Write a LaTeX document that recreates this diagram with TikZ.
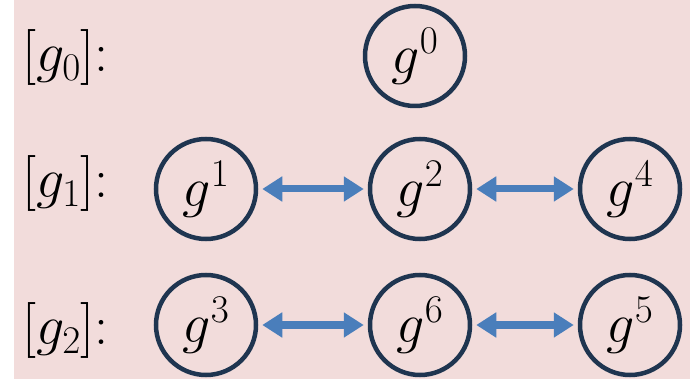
\RequirePackage{fix-cm}
\documentclass[tikz,border=0pt]{standalone}
\usepackage{amsmath}
\usepackage{tikz}
\usetikzlibrary{arrows.meta}
\definecolor{bgpink}{HTML}{F2DCDB}
\definecolor{ringblue}{HTML}{1F3550}
\definecolor{linkblue}{HTML}{4A7EBB}

\begin{document}
\begin{tikzpicture}[x=1pt,y=1pt,
    elem/.style={circle, draw=ringblue, line width=4.5pt, minimum size=100pt, inner sep=0pt, font=\fontsize{56}{64}\selectfont},
    coset/.style={anchor=west, inner sep=0pt, font=\fontsize{56}{64}\selectfont},
    link/.style={linkblue, line width=7pt, {Triangle[length=20pt,width=24pt]}-{Triangle[length=20pt,width=24pt]}, shorten <=4pt, shorten >=4pt}]
    \useasboundingbox (0,0) rectangle (690,380);
    \fill[bgpink] (14,1) rectangle (690,380);
    % cosets on the left
    \node[coset] (c0) at (22,322) {$[g_0]$:};
    \node[coset] (c1) at (22,196) {$[g_1]$:};
    \node[coset] (c2) at (22,49) {$[g_2]$:};
    % group elements
    \node[elem] (g0) at (415,324) {$g^0$};
    \node[elem] (g1) at (206,191) {$g^1$};
    \node[elem] (g2) at (420,191) {$g^2$};
    \node[elem] (g4) at (630,191) {$g^4$};
    \node[elem] (g3) at (206,55) {$g^3$};
    \node[elem] (g6) at (420,55) {$g^6$};
    \node[elem] (g5) at (630,55) {$g^5$};
    \foreach \a/\b in {g1/g2,g2/g4,g3/g6,g6/g5} {\draw[link] (\a) -- (\b);}
\end{tikzpicture}
\end{document}
